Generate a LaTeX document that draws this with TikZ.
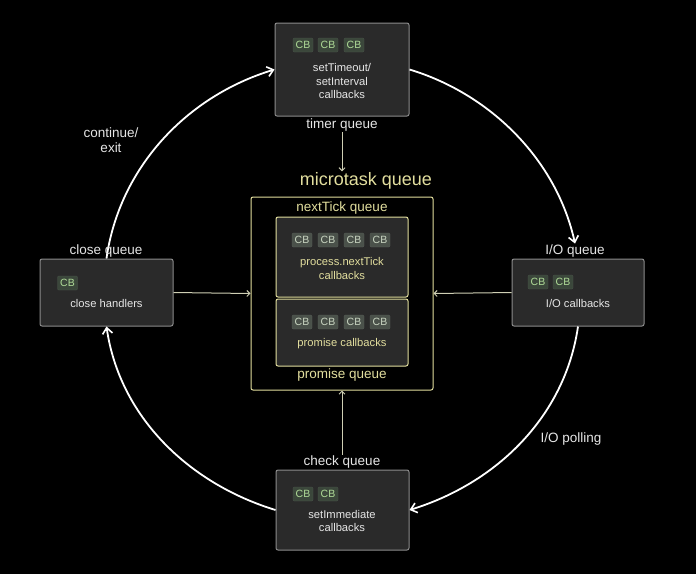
\documentclass[tikz,border=0pt]{standalone}
\usepackage{fontspec}
\setmainfont{Liberation Sans}
\usetikzlibrary{arrows.meta}
\definecolor{boxfill}{HTML}{2A2A2A}
\definecolor{boxline}{HTML}{8C8C8C}
\definecolor{txt}{HTML}{E6E6E6}
\definecolor{chipfill}{HTML}{3B473B}
\definecolor{chiptxt}{HTML}{B0DC98}
\definecolor{mchipfill}{HTML}{4A514A}
\definecolor{mchiptxt}{HTML}{CAD6C2}
\definecolor{khaki}{HTML}{E2DE9E}
\definecolor{conn}{HTML}{CFCFB4}
\begin{document}
\begin{tikzpicture}[x=1pt,y=-1pt,
  queuebox/.style={draw=boxline, fill=boxfill, rounded corners=2pt, line width=1pt, inner sep=0pt},
  microbox/.style={draw=khaki, fill=boxfill, rounded corners=2pt, line width=1pt, inner sep=0pt},
  chip/.style={fill=chipfill, draw=chipfill!90!white, line width=0.3pt, rounded corners=1pt, text=chiptxt, minimum width=20pt, minimum height=14pt, inner sep=0pt, font=\fontsize{10.5}{11}\selectfont},
  mchip/.style={chip, fill=mchipfill, draw=mchipfill!90!white, text=mchiptxt},
  boxtext/.style={text=txt, align=center, font=\fontsize{11.2}{13.5}\selectfont, inner sep=0pt},
  ytext/.style={boxtext, text=khaki},
  qlabel/.style={text=txt, font=\fontsize{13.5}{16}\selectfont, inner sep=1pt},
  ylabel/.style={qlabel, text=khaki},
  arc/.style={draw=white, line width=1.8pt, -{Straight Barb[length=6pt,width=10pt,line width=1.6pt]}},
  link/.style={draw=conn, line width=1pt, -{Straight Barb[length=3pt,width=6pt,line width=1pt]}}
]
\fill[black] (0,0) rectangle (696,574);
\useasboundingbox (0,0) rectangle (696,574);

% boxes
\node[queuebox, minimum width=134pt, minimum height=93pt] (timer) at (342,69.5) {};
\node[queuebox, minimum width=133pt, minimum height=67pt] (close) at (106.5,292.5) {};
\node[queuebox, minimum width=132pt, minimum height=67pt] (io) at (578,292.5) {};
\node[queuebox, minimum width=133pt, minimum height=80pt] (check) at (342.5,510) {};
\node[draw=khaki, line width=1pt, rounded corners=2pt, minimum width=182pt, minimum height=193pt, inner sep=0pt] (micro) at (342,293.5) {};
\node[microbox, minimum width=132pt, minimum height=80pt] (ntbox) at (342,257) {};
\node[microbox, minimum width=132pt, minimum height=67pt] (prbox) at (342,332.5) {};

% arcs of the loop
\draw[arc] (close.north) .. controls +(12.7,-90.7) and +(-87.7,26.5) .. (timer.west);

% timer contents
\node[chip] (t1) at (303,45) {CB};
\node[chip] (t2) at (328,45) {CB};
\node[chip] (t3) at (354,45) {CB};
\node[boxtext] (ttext) at (342,81) {setTimeout/\\setInterval\\callbacks};
\node[qlabel] (tlabel) at (342,125) {timer queue};

% close contents
\node[chip] (c1) at (67.5,283) {CB};
\node[boxtext] (ctext) at (106.5,303.5) {close handlers};
\node[qlabel] (clabel) at (106,251) {close queue};

% io contents
\node[chip] (i1) at (538,282) {CB};
\node[chip] (i2) at (563,282) {CB};
\node[boxtext] (itext) at (578,303.5) {I/O callbacks};
\node[qlabel] (ilabel) at (575,251) {I/O queue};

% check contents
\node[chip] (k1) at (303,494) {CB};
\node[chip] (k2) at (328,494) {CB};
\node[boxtext] (ktext) at (342,521) {setImmediate\\callbacks};
\node[qlabel] (klabel) at (342,462) {check queue};

% microtask contents
\node[ylabel, font=\fontsize{18}{20}\selectfont] (mlabel) at (366,181) {microtask queue};
\node[ylabel] (ntlabel) at (342,208) {nextTick queue};
\node[ylabel] (prlabel) at (342,375.5) {promise queue};
\node[mchip] (n1) at (302,240) {CB};
\node[mchip] (n2) at (328,240) {CB};
\node[mchip] (n3) at (354,240) {CB};
\node[mchip] (n4) at (380,240) {CB};
\node[ytext] (nttext) at (342,268.5) {process.nextTick\\callbacks};
\node[mchip] (p1) at (302,322) {CB};
\node[mchip] (p2) at (328,322) {CB};
\node[mchip] (p3) at (354,322) {CB};
\node[mchip] (p4) at (380,322) {CB};
\node[ytext] (prtext) at (342,343.5) {promise callbacks};

% other arcs
\draw[arc] (timer.east) .. controls +(81.5,24.6) and +(-18.3,-83.1) .. (ilabel.north);
\draw[arc] (io.south) .. controls +(-13,90) and +(87,-26.8) .. (check.east);
\draw[arc] (check.west) .. controls +(-87,-26.6) and +(13,90) .. (close.south);

% side labels
\node[qlabel, align=center, font=\fontsize{13.5}{15.5}\selectfont] (cont) at (111,140) {continue/\\exit};
\node[qlabel] (poll) at (571,439) {I/O polling};

% links to the microtask queue
\draw[link] (tlabel.south) -- (mlabel.north -| tlabel.south);
\draw[link] (klabel.north) -- (micro.south);
\draw[link] (close.east) -- (micro.west);
\draw[link] (io.west) -- (micro.east);
\end{tikzpicture}
\end{document}
